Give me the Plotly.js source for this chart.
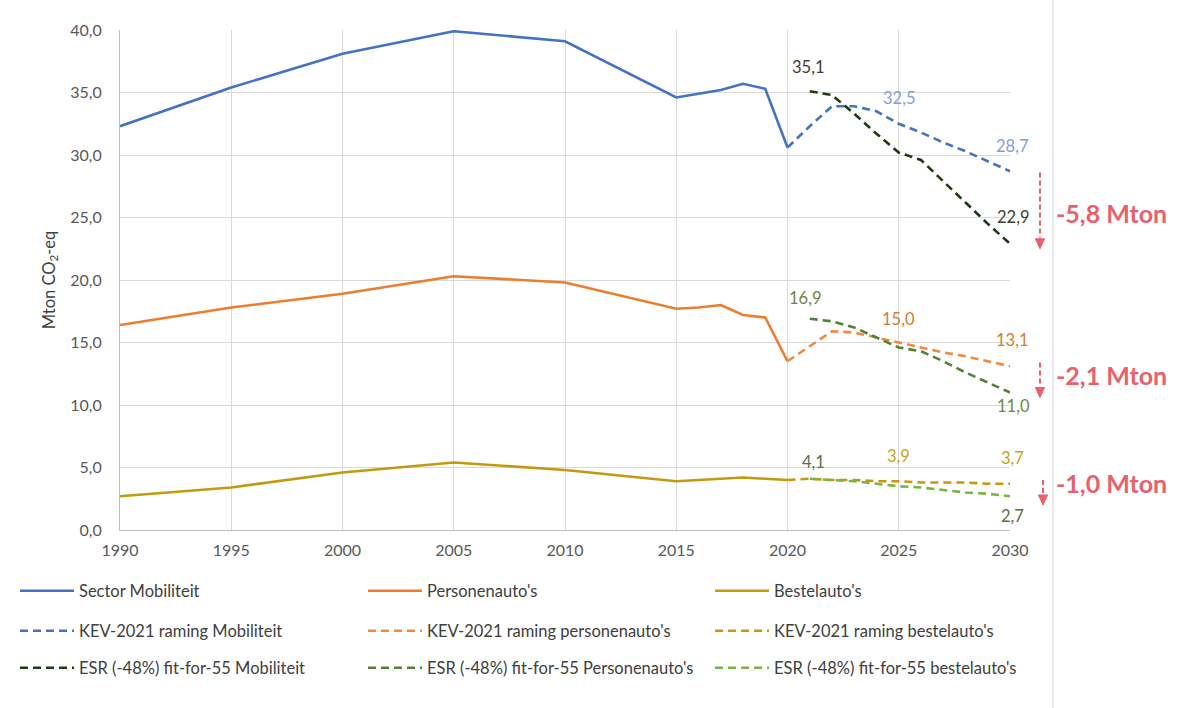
<!DOCTYPE html>
<html>
<head>
<meta charset="utf-8">
<script src="https://cdn.plot.ly/plotly-3.0.1.min.js"></script>
<style>html,body{margin:0;padding:0;background:#fff;}#chart{width:1180px;height:708px;}</style>
</head>
<body>
<div id="chart"></div>
<script>
// ---- data ----
const histYears = [1990, 1995, 2000, 2005, 2010, 2015, 2016, 2017, 2018, 2019, 2020];
const sectorMobiliteit = [32.3, 35.4, 38.1, 39.9, 39.1, 34.6, 34.9, 35.2, 35.7, 35.3, 30.6];
const personenautos   = [16.4, 17.8, 18.9, 20.3, 19.8, 17.7, 17.8, 18.0, 17.2, 17.0, 13.5];
const bestelautos     = [2.7, 3.4, 4.6, 5.4, 4.8, 3.9, 4.0, 4.1, 4.2, 4.1, 4.0];

const kevYears = [2020, 2021, 2022, 2023, 2024, 2025, 2026, 2027, 2028, 2029, 2030];
const kevMobiliteit = [30.6, 32.3, 33.9, 33.9, 33.5, 32.5, 31.8, 31.0, 30.3, 29.5, 28.7];
const kevPersonen   = [13.5, 14.7, 15.9, 15.8, 15.4, 15.0, 14.6, 14.2, 13.9, 13.5, 13.1];
const kevBestel     = [4.0, 4.1, 4.0, 4.0, 3.9, 3.9, 3.8, 3.8, 3.8, 3.7, 3.7];

const esrYears = [2021, 2022, 2023, 2024, 2025, 2026, 2027, 2028, 2029, 2030];
const esrMobiliteit = [35.1, 34.8, 33.3, 31.7, 30.2, 29.6, 27.9, 26.2, 24.5, 22.9];
const esrPersonen   = [16.9, 16.7, 16.2, 15.4, 14.6, 14.3, 13.5, 12.6, 11.8, 11.0];
const esrBestel     = [4.1, 4.0, 3.9, 3.7, 3.5, 3.4, 3.2, 3.0, 2.9, 2.7];

const seriesNames = [
  "Sector Mobiliteit", "Personenauto's", "Bestelauto's",
  "KEV-2021 raming Mobiliteit", "KEV-2021 raming personenauto's", "KEV-2021 raming bestelauto's",
  "ESR (-48%) fit-for-55 Mobiliteit", "ESR (-48%) fit-for-55 Personenauto's", "ESR (-48%) fit-for-55 bestelauto's"
];
const yTickVals = [0, 5, 10, 15, 20, 25, 30, 35, 40];
const xTickVals = [1990, 1995, 2000, 2005, 2010, 2015, 2020, 2025, 2030];

// ---- helpers ----
const fmt = v => v.toFixed(1).replace('.', ',');
const valAt = (years, vals, yr) => vals[years.indexOf(yr)];

const colors = ['#4472C4', '#ED7D31', '#C49A0C', '#4472C4', '#F4883C', '#C9960C', '#1F3A12', '#548235', '#7CB342'];
const DASH = '8px,5px';
const FONT = 'Lato, "Open Sans", sans-serif';

const defs = [
  [histYears, sectorMobiliteit, 'solid'],
  [histYears, personenautos, 'solid'],
  [histYears, bestelautos, 'solid'],
  [kevYears, kevMobiliteit, DASH],
  [kevYears, kevPersonen, DASH],
  [kevYears, kevBestel, DASH],
  [esrYears, esrMobiliteit, DASH],
  [esrYears, esrPersonen, DASH],
  [esrYears, esrBestel, DASH]
];
const legendIds = defs.map((d, i) => i === 0 ? 'legend' : 'legend' + (i + 1));
const traces = defs.map((d, i) => ({
  type: 'scatter', mode: 'lines', x: d[0], y: d[1], name: seriesNames[i],
  legend: legendIds[i],
  line: {color: colors[i], width: 2.6, dash: d[2]},
  hoverinfo: 'x+y+name'
}));

// ---- data labels ----
const LABEL_SIZE = 16.5;
const lab = (years, vals, yr, color, yshift, xshift) => ({
  x: yr, y: valAt(years, vals, yr), xref: 'x', yref: 'y', text: fmt(valAt(years, vals, yr)),
  showarrow: false, yshift: yshift, xshift: xshift || 0,
  font: {family: FONT, size: LABEL_SIZE, color: color}
});
const cDark = '#3E3E30', cBlue = '#7FA0D8', cGreen = '#6A8A40', cOrange = '#D77A35', cGold = '#C9A41A', cGrey = '#5D6E48';
const annotations = [
  lab(esrYears, esrMobiliteit, 2021, cDark, 24, -2),
  lab(kevYears, kevMobiliteit, 2025, cBlue, 26, 0),
  lab(kevYears, kevMobiliteit, 2030, cBlue, 25, 2),
  lab(esrYears, esrMobiliteit, 2030, cDark, 27, 3),
  lab(esrYears, esrPersonen, 2021, cGreen, 21, -5),
  lab(kevYears, kevPersonen, 2025, cOrange, 24, 0),
  lab(kevYears, kevPersonen, 2030, cOrange, 26, 2),
  lab(esrYears, esrPersonen, 2030, cGreen, -13, 3),
  lab(esrYears, esrBestel, 2021, cGrey, 17, 4),
  lab(kevYears, kevBestel, 2025, cGold, 25, 0),
  lab(kevYears, kevBestel, 2030, cGold, 26, 2),
  lab(esrYears, esrBestel, 2030, cGrey, -20, 2)
];
// reduction annotations
const redColor = '#E8616C';
const diffs = [
  [valAt(esrYears, esrMobiliteit, 2030) - valAt(kevYears, kevMobiliteit, 2030), 25.4],
  [valAt(esrYears, esrPersonen, 2030) - valAt(kevYears, kevPersonen, 2030), 12.4],
  [valAt(esrYears, esrBestel, 2030) - valAt(kevYears, kevBestel, 2030), 3.75]
];
diffs.forEach(d => annotations.push({
  x: 1.0495, y: d[1], xref: 'paper', yref: 'y', xanchor: 'left', yanchor: 'middle',
  text: '<b>' + fmt(d[0]) + ' Mton</b>', showarrow: false,
  font: {family: FONT, size: 25, color: redColor}
}));

// ---- shapes: dashed arrows & border line ----
const shapes = [];
const arrow = (xp, yTop, yBase, yTip) => {
  shapes.push({type: 'line', xref: 'paper', yref: 'y', x0: xp, x1: xp, y0: yTop, y1: yBase + 0.1,
    line: {color: redColor, width: 2, dash: '5px,3px'}});
  const hw = 0.0052;
  shapes.push({type: 'path', xref: 'paper', yref: 'y',
    path: `M ${xp - hw} ${yBase} L ${xp + hw} ${yBase} L ${xp} ${yTip} Z`,
    fillcolor: redColor, line: {color: redColor, width: 1}});
};
arrow(1.0337, 28.6, 23.3, 22.5);
arrow(1.0337, 13.4, 11.4, 10.6);
arrow(1.0371, 4.0, 2.8, 2.0);
shapes.push({type: 'line', xref: 'paper', yref: 'paper', x0: 1.0483, x1: 1.0483, y0: -0.36, y1: 1.07,
  line: {color: '#CFCFCF', width: 1}});

// ---- legends: one per entry, laid out in a 3x3 grid ----
const legendCols = [-0.1180, 0.2730, 0.6630];
const legendRows = [-0.122, -0.202, -0.276];
const layoutLegends = {};
legendIds.forEach((id, i) => {
  layoutLegends[id] = {
    orientation: 'h', x: legendCols[i % 3], xanchor: 'left', y: legendRows[Math.floor(i / 3)], yanchor: 'middle',
    itemwidth: 54,
    font: {family: FONT, size: 16.5, color: '#404040'}, bgcolor: 'rgba(0,0,0,0)',
    itemclick: false, itemdoubleclick: false
  };
});

const layout = Object.assign({
  width: 1180, height: 708,
  margin: {l: 120, r: 170, t: 30, b: 178},
  paper_bgcolor: '#ffffff', plot_bgcolor: '#ffffff',
  separators: ', ',
  showlegend: true,
  font: {family: FONT, size: 15, color: '#595959'},
  xaxis: {
    range: [1990, 2030], tickvals: xTickVals, ticktext: xTickVals.map(String),
    showgrid: true, gridcolor: '#D9D9D9', gridwidth: 1,
    showline: true, linecolor: '#BFBFBF', linewidth: 1,
    zeroline: false, ticks: '', ticklabelstandoff: 6,
    tickfont: {family: FONT, size: 16, color: '#595959'}
  },
  yaxis: {
    range: [0, 40], tickvals: yTickVals, ticktext: yTickVals.map(v => fmt(v)),
    showgrid: true, gridcolor: '#D9D9D9', gridwidth: 1,
    showline: true, linecolor: '#BFBFBF', linewidth: 1,
    zeroline: false, ticks: '', ticklabelstandoff: 14,
    tickfont: {family: FONT, size: 16, color: '#595959'},
    title: {text: 'Mton CO<sub>2</sub>-eq', font: {family: FONT, size: 16.5, color: '#404040'}, standoff: 10}
  },
  annotations: annotations,
  shapes: shapes
}, layoutLegends);

Plotly.newPlot('chart', traces, layout, {displayModeBar: false, staticPlot: true});
</script>
</body>
</html>
